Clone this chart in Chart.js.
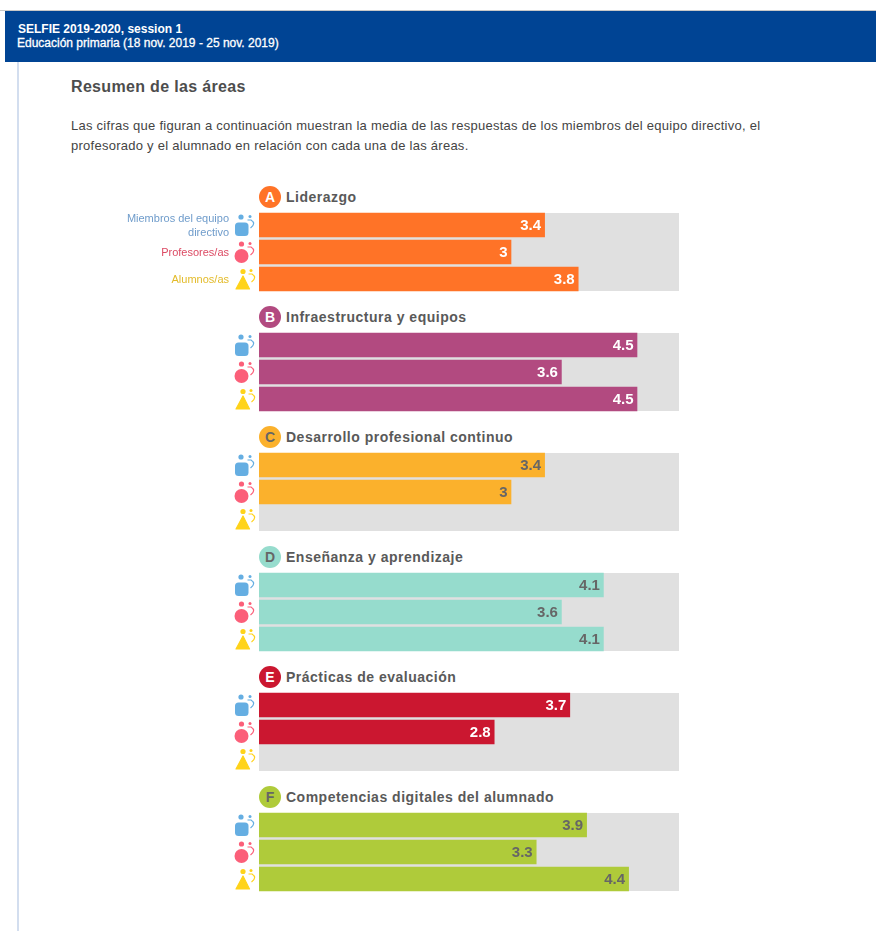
<!DOCTYPE html>
<html lang="es">
<head>
<meta charset="utf-8">
<title>Resumen de las áreas</title>
<script src="https://cdn.jsdelivr.net/npm/chart.js@4"></script>
<style>
	html, body { margin: 0; padding: 0; background: #fff; }
	body { position: relative; width: 876px; height: 931px; overflow: hidden; font-family: "Liberation Sans", Arial, sans-serif; }
	.topline { position: absolute; left: 0; top: 10px; width: 876px; height: 1px; background: #c8c8c8; }
	.banner { position: absolute; left: 5px; top: 11px; width: 871px; height: 51px; background: #004494; color: #fff; font-size: 12px; line-height: 13px; font-weight: bold; }
	.banner div { position: absolute; left: 12px; white-space: nowrap; }
	.sideline { position: absolute; left: 17px; top: 62px; width: 2px; height: 869px; background: #d3deef; }
	h1 { position: absolute; left: 71px; top: 78px; margin: 0; font-size: 16px; letter-spacing: 0.33px; line-height: 18px; color: #4d4d4d; }
	p { position: absolute; left: 71px; top: 116px; margin: 0; width: 720px; font-size: 13px; letter-spacing: 0.26px; line-height: 20px; color: #444; }
	.badge { position: absolute; left: 259px; width: 22px; height: 22px; border-radius: 50%; text-align: center; font-size: 14px; line-height: 22px; font-weight: bold; }
	.area-name { position: absolute; left: 286px; font-size: 14px; letter-spacing: 0.5px; line-height: 18px; font-weight: bold; color: #595959; white-space: nowrap; }
	canvas { position: absolute; left: 110px; }
</style>
</head>
<body>
<div class="topline"></div>
<div class="banner">
	<div style="top:12px;left:13px">SELFIE 2019-2020, session 1</div>
	<div style="top:26px;font-weight:normal;-webkit-text-stroke:0.3px #fff">Educación primaria (18 nov. 2019 - 25 nov. 2019)</div>
</div>
<div class="sideline"></div>
<h1>Resumen de las áreas</h1>
<p>Las cifras que figuran a continuación muestran la media de las respuestas de los miembros del equipo directivo, el profesorado y el alumnado en relación con cada una de las áreas.</p>
<div id="areas"></div>
<script>
const areaLetters = ["A", "B", "C", "D", "E", "F"]
const areaNames = [
	"Liderazgo",
	"Infraestructura y equipos",
	"Desarrollo profesional continuo",
	"Enseñanza y aprendizaje",
	"Prácticas de evaluación",
	"Competencias digitales del alumnado",
]
const roleLabels = [["Miembros del equipo", "directivo"], "Profesores/as", "Alumnos/as"]
const directivos = [3.4, 4.5, 3.4, 4.1, 3.7, 3.9]
const profesores = [3, 3.6, 3, 3.6, 2.8, 3.3]
const alumnos = [3.8, 4.5, null, 4.1, null, 4.4]
const scaleMax = 5

const areaColors = ["#ff7327", "#b24a80", "#fbb12c", "#96dccd", "#cb1730", "#afcb3a"]
const inkColors = ["#ffffff", "#ffffff", "#666666", "#666666", "#ffffff", "#666666"]
const roleTextColors = ["#6f9ccb", "#dc4a63", "#e3bb2a"]
const roleIconColors = ["#65aee2", "#fb5f79", "#ffd31a"]

// people icons left of each bar, drawn around the bar's centre line
function drawIcon(ctx, role, x, y) {
	const color = roleIconColors[role]
	ctx.fillStyle = color
	ctx.strokeStyle = color
	ctx.lineWidth = 1.2
	const circle = (cx, cy, r) => {
		ctx.beginPath()
		ctx.arc(cx, cy, r, 0, Math.PI * 2)
		ctx.fill()
	}
	if (role === 0) {
		circle(x - 18, y - 8, 2.6)
		ctx.beginPath()
		ctx.roundRect(x - 24, y - 2.5, 13.5, 13.5, 3.5)
		ctx.fill()
	} else if (role === 1) {
		circle(x - 17.5, y - 8, 2.6)
		circle(x - 17.5, y + 4, 7)
	} else {
		circle(x - 16, y - 7.5, 2.6)
		ctx.beginPath()
		ctx.moveTo(x - 16, y - 3)
		ctx.lineTo(x - 9.5, y + 10)
		ctx.lineTo(x - 23, y + 10)
		ctx.closePath()
		ctx.lineJoin = "round"
		ctx.stroke()
		ctx.fill()
	}
	// small figure with a raised arm
	const sx = role === 2 ? x - 8 : x - 9
	const sy = y - 8.5
	circle(sx, sy, 1.5)
	ctx.beginPath()
	ctx.moveTo(sx - 2.5, sy + 3.5)
	ctx.lineTo(sx + 1, sy + 3.5)
	ctx.quadraticCurveTo(sx + 6.5, sy + 7, sx + 0.5, sy + 11.5)
	ctx.stroke()
}

const trackPlugin = {
	id: "track",
	beforeDatasetsDraw(chart) {
		const bars = chart.getDatasetMeta(0).data
		const first = bars[0]
		const last = bars[bars.length - 1]
		const { x } = chart.scales
		const ctx = chart.ctx
		const top = first.y - first.height / 2
		const bottom = last.y + last.height / 2
		ctx.save()
		ctx.fillStyle = "#e0e0e0"
		ctx.fillRect(x.getPixelForValue(0), top, x.getPixelForValue(scaleMax) - x.getPixelForValue(0), bottom - top)
		ctx.restore()
	},
}

const valuePlugin = {
	id: "values",
	afterDatasetsDraw(chart, _args, opts) {
		const ctx = chart.ctx
		const dataset = chart.data.datasets[0]
		const left = chart.scales.x.getPixelForValue(0)
		ctx.save()
		chart.getDatasetMeta(0).data.forEach((bar, i) => {
			drawIcon(ctx, i, left, chart.scales.y.getPixelForValue(i))
			if (dataset.data[i] === null) return
			ctx.font = 'bold 15px "Liberation Sans"'
			ctx.fillStyle = opts.ink
			ctx.textAlign = "right"
			ctx.textBaseline = "middle"
			ctx.fillText(String(dataset.data[i]), bar.x - 3.5, bar.y + 0.5)
		})
		ctx.restore()
	},
}

const holder = document.getElementById("areas")

areaNames.forEach((name, i) => {
	const trackTop = 213 + i * 120

	const badge = document.createElement("div")
	badge.className = "badge"
	badge.textContent = areaLetters[i]
	badge.style.top = `${trackTop - 27}px`
	badge.style.background = areaColors[i]
	badge.style.color = inkColors[i]
	holder.appendChild(badge)

	const title = document.createElement("div")
	title.className = "area-name"
	title.textContent = name
	title.style.top = `${trackTop - 25}px`
	holder.appendChild(title)

	const canvas = document.createElement("canvas")
	canvas.width = 570
	canvas.height = 82
	canvas.style.top = `${trackTop - 2}px`
	holder.appendChild(canvas)

	new Chart(canvas, {
		type: "bar",
		data: {
			labels: roleLabels,
			datasets: [{
				data: [directivos[i], profesores[i], alumnos[i]],
				backgroundColor: areaColors[i],
				barThickness: 24,
			}],
		},
		options: {
			indexAxis: "y",
			responsive: false,
			animation: false,
			layout: { padding: { top: 0.5, bottom: 0.5, right: 1 } },
			plugins: {
				legend: { display: false },
				tooltip: { enabled: false },
				values: { ink: inkColors[i] },
			},
			scales: {
				x: { display: false, min: 0, max: scaleMax },
				y: {
					// the two line label must not squeeze the plot height
					afterFit: (scale) => {
						scale.width = 149
						scale.paddingTop = 0
						scale.paddingBottom = 0
					},
					grid: { display: false },
					border: { display: false },
					ticks: {
						display: i === 0,
						autoSkip: false,
						padding: 22,
						labelOffset: 1,
						font: { family: "Liberation Sans", size: 11, lineHeight: 1.3 },
						color: (c) => roleTextColors[c.index],
					},
				},
			},
		},
		plugins: [trackPlugin, valuePlugin],
	})
})
</script>
</body>
</html>
